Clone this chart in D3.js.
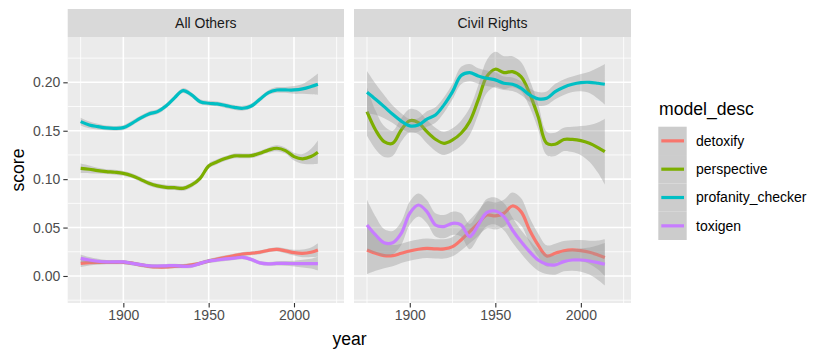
<!DOCTYPE html>
<html>
<head>
<meta charset="utf-8">
<script src="https://d3js.org/d3.v7.min.js"></script>
<style>
  body { margin: 0; background: #fff; }
  text { font-family: "Liberation Sans", Arial, sans-serif; }
</style>
</head>
<body>
<div id="custom-container"></div>
<script>
/* Access data */
var years = [1875, 1880, 1885, 1890, 1895, 1900, 1905, 1910, 1915, 1920, 1925, 1930, 1935, 1940,
  1945, 1950, 1955, 1960, 1965, 1970, 1975, 1980, 1985, 1990, 1995, 2000, 2005, 2010, 2014];
var facets = ["All Others", "Civil Rights"];
var models = ["detoxify", "perspective", "profanity_checker", "toxigen"];
var colors = ["#F8766D", "#7CAE00", "#00BFC4", "#C77CFF"];
var xTicks = [1900, 1950, 2000];
var yTicks = [0, 0.05, 0.10, 0.15, 0.20];

// All Others: smoothed score, and half width of the grey band
var aoDetoxify = [.0131, .0138, .0140, .0140, .0141, .0141, .0132, .0114, .0100, .0093, .0093, .0100, .0103, .0114,
  .0130, .0155, .0175, .0193, .0210, .0227, .0235, .0245, .0265, .0275, .0260, .0241, .0234, .0245, .0269];
var aoPerspective = [.1112, .1102, .1088, .1078, .1071, .1060, .1036, .0998, .0957, .0930, .0916, .0912, .0905, .0940,
  .1009, .1136, .1180, .1215, .1240, .1240, .1243, .1267, .1300, .1319, .1295, .1233, .1210, .1233, .1278];
var aoProfanity = [.1594, .1560, .1543, .1529, .1525, .1532, .1577, .1630, .1674, .1697, .1755, .1840, .1915, .1870,
  .1800, .1784, .1777, .1760, .1742, .1732, .1756, .1825, .1894, .1921, .1921, .1921, .1932, .1956, .1980];
var aoToxigen = [.0182, .0165, .0152, .0145, .0145, .0145, .0130, .0117, .0105, .0103, .0105, .0107, .0100, .0103,
  .0130, .0155, .0165, .0176, .0185, .0193, .0170, .0135, .0125, .0130, .0130, .0128, .0128, .0128, .0128];
var aoDetoxifySe = [.004, .003, .0025, .002, .002, .002, .002, .002, .002, .002, .002, .002, .002, .002,
  .002, .002, .002, .002, .002, .002, .002, .002, .002, .0022, .0025, .003, .004, .005, .007];
var aoPerspectiveSe = [.005, .004, .003, .0025, .0025, .0025, .0025, .0025, .0025, .0025, .0025, .0025, .0025, .0025,
  .0025, .0025, .0025, .0025, .0025, .0025, .0025, .0025, .0025, .003, .003, .004, .005, .008, .012];
var aoProfanitySe = [.004, .0035, .003, .0025, .0025, .0025, .0025, .0025, .0025, .0025, .0025, .0025, .0025, .0025,
  .0025, .0025, .0025, .0025, .0025, .0025, .0025, .0025, .0025, .003, .003, .004, .005, .008, .011];
var aoToxigenSe = [.004, .003, .0025, .002, .002, .002, .002, .002, .002, .002, .002, .002, .002, .002,
  .002, .002, .002, .002, .002, .002, .002, .002, .002, .0022, .0025, .003, .004, .005, .007];

// Civil Rights
var crDetoxify = [.0269, .0234, .0210, .0210, .0234, .0258, .0276, .0286, .0280, .0280, .0303, .0372, .0458, .0544,
  .0630, .0620, .0648, .0723, .0665, .0475, .0320, .0207, .0234, .0261, .0269, .0261, .0245, .0217, .0190];
var crPerspective = [.1697, .1508, .1388, .1370, .1508, .1604, .1584, .1490, .1412, .1370, .1405, .1474, .1594, .1818,
  .2059, .2135, .2100, .2110, .2059, .1887, .1646, .1370, .1360, .1410, .1410, .1398, .1370, .1326, .1284];
var crProfanity = [.1897, .1825, .1749, .1670, .1600, .1550, .1560, .1620, .1663, .1767, .1904, .2070, .2100, .2066,
  .2042, .2025, .1990, .1980, .1940, .1870, .1829, .1835, .1904, .1950, .1980, .1997, .2000, .1990, .1980];
var crToxigen = [.0527, .0424, .0344, .0344, .0441, .0648, .0733, .0665, .0527, .0510, .0544, .0527, .0406, .0527,
  .0654, .0671, .0613, .0475, .0355, .0251, .0165, .0121, .0114, .0148, .0165, .0165, .0155, .0138, .0121];
var crDetoxifySe = [.025, .018, .013, .011, .010, .010, .010, .010, .010, .010, .010, .011, .012, .013,
  .014, .014, .014, .014, .014, .013, .012, .011, .010, .010, .010, .011, .012, .015, .019];
var crPerspectiveSe = [.025, .020, .016, .013, .012, .012, .012, .012, .012, .012, .012, .013, .014, .015,
  .017, .018, .017, .016, .015, .014, .013, .012, .012, .012, .013, .015, .019, .026, .034];
var crProfanitySe = [.022, .016, .012, .009, .008, .007, .007, .008, .008, .008, .008, .009, .009, .008,
  .008, .008, .007, .007, .007, .007, .007, .007, .008, .008, .008, .009, .011, .016, .021];
var crToxigenSe = [.026, .019, .014, .012, .012, .012, .012, .012, .012, .012, .012, .012, .013, .013,
  .014, .014, .014, .013, .012, .012, .011, .010, .010, .010, .011, .012, .014, .018, .022];

var values = [[aoDetoxify, aoPerspective, aoProfanity, aoToxigen], [crDetoxify, crPerspective, crProfanity, crToxigen]];
var bands = [[aoDetoxifySe, aoPerspectiveSe, aoProfanitySe, aoToxigenSe], [crDetoxifySe, crPerspectiveSe, crProfanitySe, crToxigenSe]];

// 2. Create chart dimensions
var dimensions = {
  width: 830,
  height: 356,
  panelTop: 37,
  panelBottom: 303,
  stripHeight: 28,
  panels: [[67.7, 344], [354, 631]]
};

// 3. Draw canvas
var svg = d3.select("#custom-container")
  .append("svg")
  .attr("width", dimensions.width)
  .attr("height", dimensions.height);

// 4. Create scales
var yScale = d3.scaleLinear()
  .domain([-0.0279, 0.2468])
  .range([dimensions.panelBottom, dimensions.panelTop]);

var lineGenerator = function (xScale) {
  return d3.line().curve(d3.curveCatmullRom)
    .x(d => xScale(d.year))
    .y(d => yScale(d.v));
};

facets.forEach(function (facet, f) {
  var x0 = dimensions.panels[f][0], x1 = dimensions.panels[f][1];
  var xScale = d3.scaleLinear().domain([1867.4, 2029.3]).range([x0, x1]);
  var g = svg.append("g");

  // panel background + grid
  g.append("rect").attr("x", x0).attr("y", dimensions.panelTop)
    .attr("width", x1 - x0).attr("height", dimensions.panelBottom - dimensions.panelTop)
    .attr("fill", "#EBEBEB");
  [1875, 1925, 1975, 2025].forEach(function (t) {
    g.append("line").attr("x1", xScale(t)).attr("x2", xScale(t))
      .attr("y1", dimensions.panelTop).attr("y2", dimensions.panelBottom)
      .attr("stroke", "#fff").attr("stroke-width", 0.8);
  });
  [-0.025, 0.025, 0.075, 0.125, 0.175, 0.225].forEach(function (t) {
    g.append("line").attr("x1", x0).attr("x2", x1).attr("y1", yScale(t)).attr("y2", yScale(t))
      .attr("stroke", "#fff").attr("stroke-width", 0.8);
  });
  xTicks.forEach(function (t) {
    g.append("line").attr("x1", xScale(t)).attr("x2", xScale(t))
      .attr("y1", dimensions.panelTop).attr("y2", dimensions.panelBottom)
      .attr("stroke", "#fff").attr("stroke-width", 1.6);
  });
  yTicks.forEach(function (t) {
    g.append("line").attr("x1", x0).attr("x2", x1).attr("y1", yScale(t)).attr("y2", yScale(t))
      .attr("stroke", "#fff").attr("stroke-width", 1.6);
  });

  // strip
  g.append("rect").attr("x", x0).attr("y", dimensions.panelTop - dimensions.stripHeight)
    .attr("width", x1 - x0).attr("height", dimensions.stripHeight).attr("fill", "#D9D9D9");
  g.append("text").attr("x", (x0 + x1) / 2).attr("y", dimensions.panelTop - dimensions.stripHeight / 2)
    .attr("dy", "0.35em").attr("text-anchor", "middle").attr("font-size", 14).attr("fill", "#1A1A1A")
    .text(facet);

  // 5. Draw data: ribbon then line, per model
  var clipId = "clip" + f;
  g.append("clipPath").attr("id", clipId).append("rect")
    .attr("x", x0).attr("y", dimensions.panelTop)
    .attr("width", x1 - x0).attr("height", dimensions.panelBottom - dimensions.panelTop);
  var plot = g.append("g").attr("clip-path", "url(#" + clipId + ")");
  models.forEach(function (m, i) {
    var pts = years.map((yr, k) => ({ year: yr, v: values[f][i][k], se: bands[f][i][k] }));
    var area = d3.area().curve(d3.curveCatmullRom)
      .x(d => xScale(d.year))
      .y0(d => yScale(d.v - d.se))
      .y1(d => yScale(d.v + d.se));
    plot.append("path").attr("d", area(pts))
      .attr("fill", "#999999").attr("fill-opacity", 0.4);
    plot.append("path").attr("d", lineGenerator(xScale)(pts))
      .attr("fill", "none").attr("stroke", colors[i]).attr("stroke-width", 3.2)
      .attr("stroke-linejoin", "round");
  });

  // 6. Draw peripherals
  var xAxis = g.append("g")
    .attr("transform", `translate(0, ${dimensions.panelBottom})`)
    .call(d3.axisBottom(xScale).tickValues(xTicks).tickSize(4.4).tickPadding(3).tickFormat(d3.format("d")));
  xAxis.select(".domain").remove();
  xAxis.selectAll("line").attr("stroke", "#333333").attr("stroke-width", 1.1);
  xAxis.selectAll("text").attr("font-size", 14).attr("fill", "#4D4D4D")
    .attr("font-family", "Liberation Sans, Arial, sans-serif");

  if (f === 0) {
    var yAxis = g.append("g")
      .attr("transform", `translate(${x0}, 0)`)
      .call(d3.axisLeft(yScale).tickValues(yTicks).tickSize(4.4).tickPadding(3).tickFormat(d3.format(".2f")));
    yAxis.select(".domain").remove();
    yAxis.selectAll("line").attr("stroke", "#333333").attr("stroke-width", 1.1);
    yAxis.selectAll("text").attr("font-size", 14).attr("fill", "#4D4D4D")
      .attr("font-family", "Liberation Sans, Arial, sans-serif");
  }
});

// axis titles
svg.append("text").attr("x", 349.5).attr("y", 345).attr("text-anchor", "middle")
  .attr("font-size", 17.6).attr("fill", "#000").text("year");
svg.append("text").attr("transform", "translate(24, 170) rotate(-90)").attr("text-anchor", "middle")
  .attr("font-size", 17.6).attr("fill", "#000").text("score");

// legend
var legend = svg.append("g");
legend.append("text").attr("x", 659).attr("y", 115).attr("font-size", 17.6).attr("fill", "#000").text("model_desc");
var keyScale = d3.scaleBand().domain(models).range([126.7, 240]);
models.forEach(function (m, i) {
  var ky = keyScale(m);
  legend.append("rect").attr("x", 658.3).attr("y", ky).attr("width", 28.4).attr("height", keyScale.bandwidth())
    .attr("fill", "#CCCCCC");
  legend.append("line").attr("x1", 661.3).attr("x2", 684).attr("y1", ky + keyScale.bandwidth() / 2)
    .attr("y2", ky + keyScale.bandwidth() / 2).attr("stroke", colors[i]).attr("stroke-width", 3.2);
  legend.append("text").attr("x", 696).attr("y", ky + keyScale.bandwidth() / 2).attr("dy", "0.35em")
    .attr("font-size", 14).attr("fill", "#000").text(m);
});
</script>
</body>
</html>
